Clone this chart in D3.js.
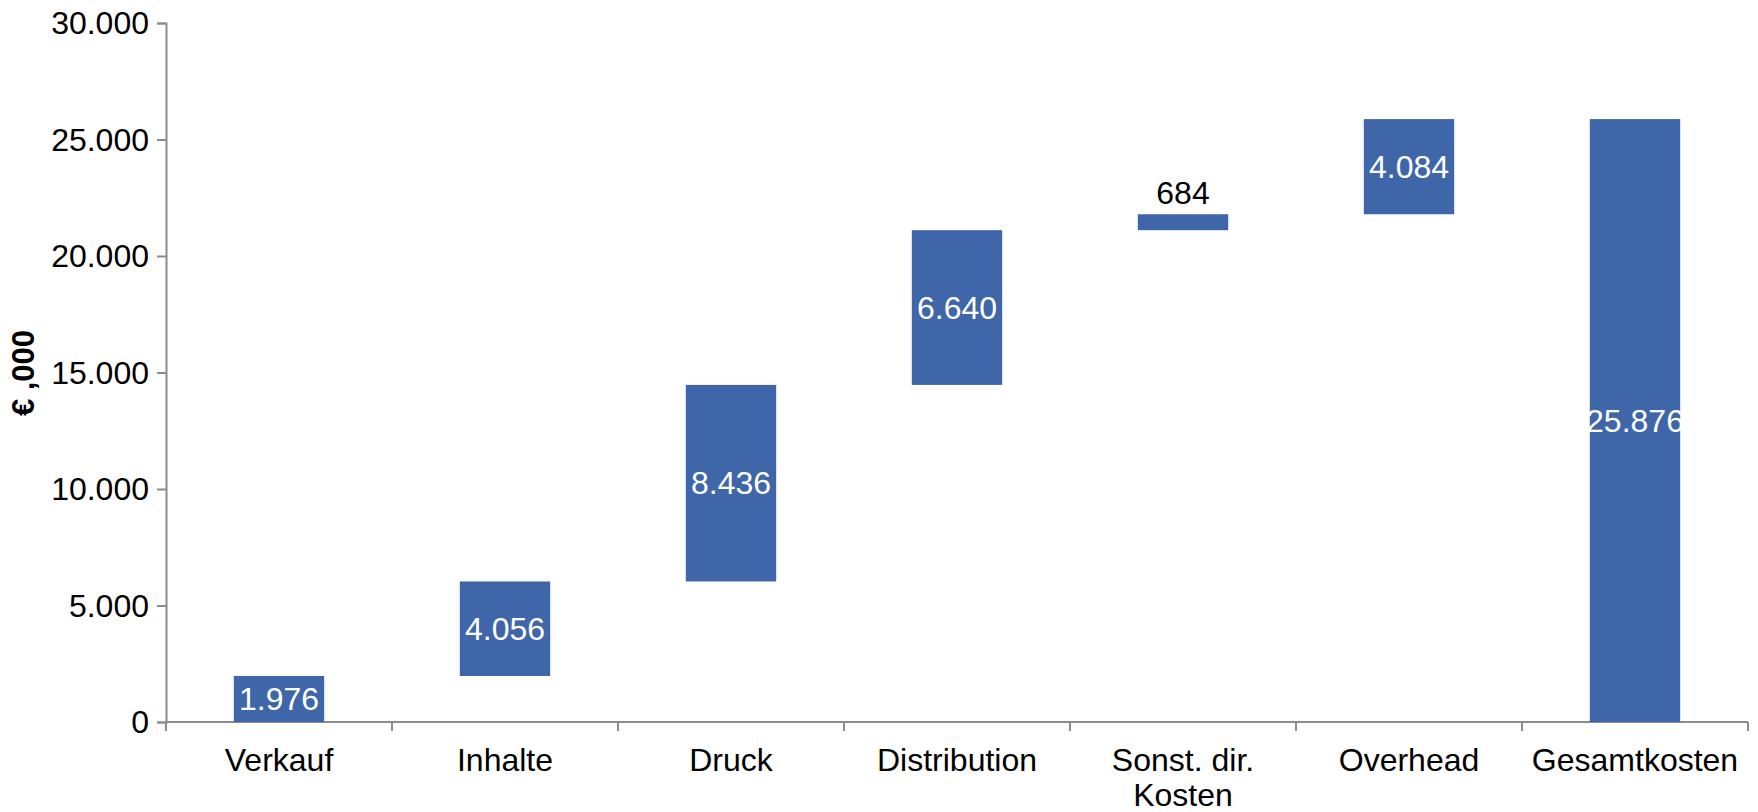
<!DOCTYPE html>
<html>
<head>
<meta charset="utf-8">
<script src="https://cdn.jsdelivr.net/npm/d3@7"></script>
<style>
  body { margin: 0; background: #fff; }
  text { font-family: "Liberation Sans", Arial, sans-serif; }
</style>
</head>
<body>
<div id="container"></div>
<script>
// chart data
const categories = ["Verkauf", "Inhalte", "Druck", "Distribution", "Sonst. dir.\nKosten", "Overhead", "Gesamtkosten"];
const values = [1976, 4056, 8436, 6640, 684, 4084, 25876];
const isTotal = [false, false, false, false, false, false, true];
const yTicks = [0, 5000, 10000, 15000, 20000, 25000, 30000];
const labelOutside = [false, false, false, false, true, false, false];

width = 1758
height = 812
margin = {top: 23, right: 10, bottom: 90, left: 166}

const svg = d3.select('#container')
    .append("svg")
    .attr("width", width)
    .attr("height", height);

const plotW = 1582;
const plotH = 699;

const g = svg.append("g")
    .attr("transform", 'translate(' + margin.left + ',' + margin.top + ')');

const x = d3.scaleBand()
    .domain(categories)
    .range([0, plotW])
    .paddingInner(0.6)
    .paddingOuter(0.3);

const y = d3.scaleLinear()
    .domain([0, 30000])
    .range([plotH, 0]);

// running start/end for the waterfall
let running = 0;
const steps = categories.map((c, i) => {
    let start, end;
    if (isTotal[i]) { start = 0; end = values[i]; }
    else { start = running; end = running + values[i]; running = end; }
    return {cat: c, value: values[i], start: start, end: end, outside: labelOutside[i]};
});

const fmt = d3.formatLocale({decimal: ",", thousands: ".", grouping: [3], currency: ["", "€"]}).format(",.0f");

// y axis
const yAxis = g.append("g")
    .call(d3.axisLeft(y).tickValues(yTicks).tickSize(9).tickPadding(8).tickFormat(fmt));
yAxis.select(".domain").attr("stroke", "#8c8c8c").attr("stroke-width", 2);
yAxis.selectAll(".tick line").attr("stroke", "#8c8c8c").attr("stroke-width", 2);
yAxis.selectAll(".tick text").attr("font-size", 32).attr("fill", "#000").attr("dy", "0.34em");

// x axis: ticks between categories
const xAxisG = g.append("g").attr("transform", 'translate(0,' + plotH + ')');
xAxisG.append("line")
    .attr("x1", 0).attr("x2", plotW)
    .attr("stroke", "#8c8c8c").attr("stroke-width", 2);
const bw = plotW / categories.length;
xAxisG.selectAll(".xtick")
    .data(d3.range(categories.length + 1))
    .enter()
    .append("line")
    .attr("x1", d => d * bw).attr("x2", d => d * bw)
    .attr("y1", 0).attr("y2", 9)
    .attr("stroke", "#8c8c8c").attr("stroke-width", 2);

const xLabels = xAxisG.selectAll(".xlabel")
    .data(categories)
    .enter()
    .append("text")
    .attr("class", "xlabel")
    .attr("text-anchor", "middle")
    .attr("font-size", 32)
    .attr("transform", d => 'translate(' + (x(d) + x.bandwidth() / 2) + ',49)');
xLabels.selectAll("tspan")
    .data(d => d.split("\n"))
    .enter()
    .append("tspan")
    .attr("x", 0)
    .attr("dy", (d, i) => i === 0 ? 0 : 35)
    .text(d => d);

// bars
g.selectAll(".bar")
    .data(steps)
    .enter()
    .append("rect")
    .attr("class", "bar")
    .attr("x", d => x(d.cat))
    .attr("width", x.bandwidth())
    .attr("y", d => y(d.end))
    .attr("height", d => y(d.start) - y(d.end))
    .attr("fill", "#4066aa");

// value labels
g.selectAll(".vlabel")
    .data(steps)
    .enter()
    .append("text")
    .attr("class", "vlabel")
    .attr("text-anchor", "middle")
    .attr("font-size", 32)
    .attr("fill", d => d.outside ? "#000" : "#fff")
    .attr("x", d => x(d.cat) + x.bandwidth() / 2)
    .attr("y", d => d.outside ? y(d.end) - 10 : (y(d.start) + y(d.end)) / 2 + 11)
    .text(d => fmt(d.value));

// y axis title
svg.append("text")
    .attr("transform", 'translate(34,373) rotate(-90)')
    .attr("text-anchor", "middle")
    .attr("font-size", 31)
    .attr("font-weight", "bold")
    .text("€ ,000");
</script>
</body>
</html>
